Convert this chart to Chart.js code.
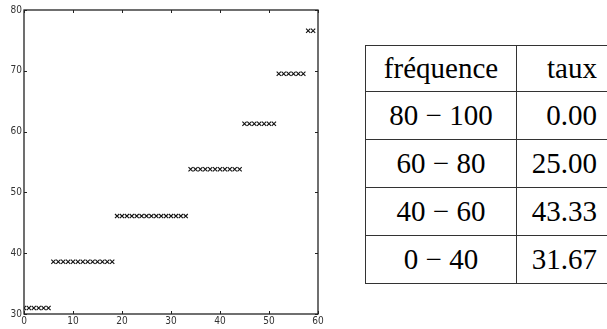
<!DOCTYPE html>
<html>
<head>
<meta charset="utf-8">
<script src="https://cdn.jsdelivr.net/npm/chart.js@4"></script>
<style>
  html, body { margin: 0; padding: 0; background: #fff; width: 607px; height: 329px; overflow: hidden; }
  #wrap { position: absolute; left: 0; top: 0; width: 330px; height: 329px; }
  table.freq {
    position: absolute; left: 365px; top: 45px;
    border-collapse: collapse;
    table-layout: fixed;
    width: 254px;
  }
  table.freq td {
    font-family: "Liberation Serif", "Times New Roman", "DejaVu Serif", serif;
    font-size: 29px; color: #000;
    border: 1.4px solid #333;
    padding: 0; box-sizing: border-box;
    white-space: nowrap; vertical-align: middle;
  }
  table.freq td.c1 { width: 151px; text-align: center; }
  table.freq td.c2 { width: 103px; text-align: right; padding-right: 22px; }
  table.freq tr.h td { height: 46px; }
  table.freq tr.r td { height: 48px; }
</style>
</head>
<body>
<div id="wrap"><canvas id="c" width="330" height="329"></canvas></div>
<table class="freq" id="tbl"></table>
<script>
// ---- data ----
const xValues = [0,1,2,3,4,5,6,7,8,9,10,11,12,13,14,15,16,17,18,19,20,21,22,23,24,25,26,27,28,29,
                 30,31,32,33,34,35,36,37,38,39,40,41,42,43,44,45,46,47,48,49,50,51,52,53,54,55,56,57,58,59];
const yValues = [31,31,31,31,31,31,
                 38.6,38.6,38.6,38.6,38.6,38.6,38.6,38.6,38.6,38.6,38.6,38.6,38.6,
                 46.1,46.1,46.1,46.1,46.1,46.1,46.1,46.1,46.1,46.1,46.1,46.1,46.1,46.1,46.1,
                 53.8,53.8,53.8,53.8,53.8,53.8,53.8,53.8,53.8,53.8,53.8,
                 61.3,61.3,61.3,61.3,61.3,61.3,61.3,
                 69.5,69.5,69.5,69.5,69.5,69.5,
                 76.6,76.6];
const xTicks = [0,10,20,30,40,50,60];
const yTicks = [30,40,50,60,70,80];
const tableHeader = ["fréquence", "taux"];
const tableRanges = ["80 − 100", "60 − 80", "40 − 60", "0 − 40"];
const tableRates = ["0.00", "25.00", "43.33", "31.67"];

// ---- table ----
const tbl = document.getElementById('tbl');
let html = '<tr class="h"><td class="c1">' + tableHeader[0] + '</td><td class="c2">' + tableHeader[1] + '</td></tr>';
tableRanges.forEach((r, i) => {
  html += '<tr class="r"><td class="c1">' + r + '</td><td class="c2">' + tableRates[i] + '</td></tr>';
});
tbl.innerHTML = html;

// ---- chart ----
const points = xValues.map((x, i) => ({ x: x, y: yValues[i] }));
const tickFont = { family: '"Liberation Sans Narrow", "DejaVu Sans Condensed", sans-serif', size: 10 };

const frameTicks = {
  id: 'frameTicks',
  afterDraw(chart) {
    const { ctx, chartArea: a, scales } = chart;
    ctx.save();
    ctx.strokeStyle = '#222';
    ctx.lineWidth = 1.3;
    ctx.strokeRect(a.left, a.top, a.right - a.left, a.bottom - a.top);
    ctx.lineWidth = 1;
    const L = 3;
    ctx.beginPath();
    xTicks.forEach(v => {
      const px = Math.round(scales.x.getPixelForValue(v)) + 0.5;
      ctx.moveTo(px, a.bottom); ctx.lineTo(px, a.bottom - L);
      ctx.moveTo(px, a.top); ctx.lineTo(px, a.top + L);
    });
    yTicks.forEach(v => {
      const py = Math.round(scales.y.getPixelForValue(v)) + 0.5;
      ctx.moveTo(a.left, py); ctx.lineTo(a.left + L, py);
      ctx.moveTo(a.right, py); ctx.lineTo(a.right - L, py);
    });
    ctx.stroke();
    ctx.restore();
  }
};

new Chart(document.getElementById('c'), {
  type: 'scatter',
  data: {
    datasets: [{
      data: points,
      pointStyle: 'crossRot',
      pointRadius: 3,
      pointBorderWidth: 1.1,
      borderColor: '#111',
      backgroundColor: '#111'
    }]
  },
  options: {
    responsive: false,
    animation: false,
    events: [],
    layout: { padding: { top: 10, right: 12, left: 0, bottom: 0 } },
    plugins: { legend: { display: false }, tooltip: { enabled: false } },
    scales: {
      x: {
        type: 'linear', min: 0, max: 60,
        afterBuildTicks: s => { s.ticks = xTicks.map(v => ({ value: v })); },
        afterFit: s => { s.height = 15; },
        grid: { display: false, drawTicks: false },
        border: { display: false },
        ticks: { font: tickFont, color: '#333', padding: 1, maxRotation: 0 }
      },
      y: {
        type: 'linear', min: 30, max: 80,
        afterBuildTicks: s => { s.ticks = yTicks.map(v => ({ value: v })); },
        afterFit: s => { s.width = 24; },
        grid: { display: false, drawTicks: false },
        border: { display: false },
        ticks: { font: tickFont, color: '#333', padding: 2 }
      }
    }
  },
  plugins: [frameTicks]
});
</script>
</body>
</html>
